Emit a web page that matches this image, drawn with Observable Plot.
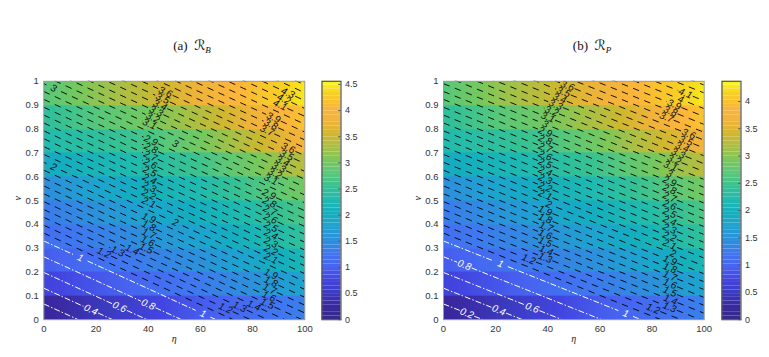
<!DOCTYPE html>
<html><head><meta charset="utf-8">
<script src="https://cdn.jsdelivr.net/npm/d3@7"></script>
<script src="https://cdn.jsdelivr.net/npm/@observablehq/plot@0.6"></script>
<style>
html,body{margin:0;padding:0;background:#fff}
#page{position:relative;width:769px;height:357px;overflow:hidden}
#page svg{position:absolute;background:transparent}
.ttl{position:absolute;top:37px;font:13px "Liberation Serif",serif;color:#111;white-space:pre;transform:translateX(-50%)}
.ttl sub{font-size:9px;font-style:italic;vertical-align:-3px;line-height:0}
.ttl i{font-family:"DejaVu Serif","DejaVu Sans";font-size:14px}
</style></head><body><div id="page"></div>
<script>
const parula=["#352a87","#3a28a0","#3b3bc0","#4245e0","#4763f0","#3f78f0","#2d8fdc","#1ea3d0","#14aebf","#1fbab0","#35c195","#5ac878","#78c85c","#aac044","#d0b72f","#f0b33a","#fcb53a","#f8cf25","#f9fb14"];
const etaCols=[0,20,40,60,80,100];
const nuBands=[0,0.1,0.2,0.3,0.4,0.5,0.6,0.7,0.8,0.9];
const fieldA=[
[0.2,0.45,0.7,0.95,1.15,1.35],
[0.7,0.9,1.1,1.3,1.55,1.8],
[0.95,1.15,1.35,1.55,1.85,2.2],
[1.15,1.35,1.55,1.8,2.15,2.5],
[1.3,1.55,1.8,2.05,2.35,2.7],
[1.5,1.8,2.05,2.3,2.65,3.0],
[1.95,2.15,2.35,2.6,3.0,3.4],
[2.3,2.45,2.65,3.0,3.45,3.9],
[2.45,2.75,3.0,3.35,3.8,4.2],
[2.75,3.15,3.45,3.8,4.15,4.45]];
const fieldB=[
[0.19,0.43,0.67,0.91,1.1,1.3],
[0.67,0.86,1.06,1.25,1.49,1.73],
[0.91,1.1,1.3,1.49,1.78,2.11],
[1.1,1.3,1.49,1.73,2.06,2.4],
[1.25,1.49,1.73,1.97,2.26,2.59],
[1.44,1.73,1.97,2.21,2.54,2.88],
[1.87,2.06,2.26,2.5,2.88,3.26],
[2.21,2.35,2.54,2.88,3.31,3.74],
[2.35,2.64,2.88,3.22,3.65,4.03],
[2.64,3.02,3.31,3.65,3.98,4.27]];
const levels=[0.2,0.4,0.6,0.8,1,1.1,1.2,1.3,1.4,1.5,1.6,1.7,1.8,1.9,2,2.1,2.2,2.3,2.4,2.5,2.6,2.7,2.8,2.9,3,3.1,3.2,3.3,3.4,3.5,3.6,3.7,3.8,3.9,4,4.1,4.2,4.3,4.4,4.5];
const nuAtEta0=[0.066,0.132,0.198,0.264,0.33,0.363,0.396,0.429,0.462,0.495,0.528,0.561,0.594,0.627,0.66,0.693,0.726,0.759,0.792,0.825,0.858,0.891,0.924,0.957,0.99,1.023,1.056,1.089,1.122,1.155,1.188,1.221,1.254,1.287,1.32,1.353,1.386,1.419,1.452,1.485];
const nuAtEta100A=[-0.434,-0.368,-0.302,-0.236,-0.17,-0.137,-0.104,-0.071,-0.038,-0.005,0.028,0.061,0.094,0.127,0.16,0.193,0.226,0.259,0.292,0.325,0.358,0.391,0.424,0.457,0.49,0.523,0.556,0.589,0.622,0.655,0.688,0.721,0.754,0.787,0.82,0.853,0.886,0.919,0.952,0.985];
const nuAtEta100B=[-0.369,-0.303,-0.237,-0.171,-0.105,-0.072,-0.039,-0.006,0.027,0.06,0.093,0.126,0.159,0.192,0.225,0.258,0.291,0.324,0.357,0.39,0.423,0.456,0.489,0.522,0.555,0.588,0.621,0.654,0.687,0.72,0.753,0.786,0.819,0.852,0.885,0.918,0.951,0.984,1.017,1.05];
const labelLevelA=[0.4,0.6,0.8,1,1,1.2,1.3,1.4,1.5,1.6,1.7,1.8,1.9,2,2,2.1,2.2,2.3,2.4,2.5,2.6,2.7,2.8,2.9,3,3,3.1,3.2,3.3,3.4,3.5,3.6,
1.2,1.3,1.4,1.5,1.6,1.7,1.8,1.9,2.1,2.2,2.3,2.4,2.5,2.6,2.7,2.8,2.9,3.1,3.2,3.3,3.4,3.5,3.6,3.7,3.8,3.9,4.1,4.2,4.3];
const labelEtaA=[18,29,40,14,61,23,28.3,33.8,39.2,39.8,40.2,40.2,40.2,3.8,50.4,40.2,40.2,40.4,40.5,40.6,40.7,40.8,41,41,3.8,50.4,40.5,41.8,43,44.5,45.5,46.6,
69.6,75,80.5,85.6,86.2,86.5,87,87,87,87,87,87,87,86.8,86.6,86.4,86.2,87,88.5,90,91.5,93,93.6,85.5,87,88,90.5,92,93.5];
const labelLevelB=[0.2,0.4,0.6,0.8,1,1,1.2,1.3,1.4,1.5,1.6,1.7,1.8,1.9,2,2.1,2.2,2.3,2.4,2.5,2.6,2.7,2.8,2.9,3,3.1,3.2,3.3,3.4,3.5,3.6,
1.2,1.3,1.4,1.5,1.6,1.7,1.8,1.9,2,2.1,2.2,2.3,2.4,2.5,2.6,2.7,2.8,2.9,3,3.1,3.2,3.3,3.4,3.5,3.6,3.7,3.8,3.9,4,4.1];
const labelEtaB=[9,21.2,34,8,21.9,69.9,32.7,39,39.4,39,39,39.4,39,39,40.4,39,39,39,39,39,39,39,39,39,39,40,41.5,43,44.5,46,47.5,
80.4,86.7,87,86.8,86.8,86.8,86.8,86.8,88,86.7,86.7,86.7,86.7,86.7,86.7,86.7,86.7,86.7,86.7,87,88.5,90,91.5,93,94,85.5,87,88.5,91,92.8];
const ticksX=[0,20,40,60,80,100];
const ticksY=[0,0.1,0.2,0.3,0.4,0.5,0.6,0.7,0.8,0.9,1];
const panelA={left:0,frameL:43.3,frameR:304.3,cbL:320.5,cbMax:4.56,cbTicks:[0,0.5,1,1.5,2,2.5,3,3.5,4,4.5],field:fieldA,ends:nuAtEta100A,lv:labelLevelA,le:labelEtaA,title:"(a)",sub:"B",titleX:192};
const panelB={left:385,frameL:443,frameR:703.7,cbL:720.5,cbMax:4.37,cbTicks:[0,0.5,1,1.5,2,2.5,3,3.5,4],field:fieldB,ends:nuAtEta100B,lv:labelLevelB,le:labelEtaB,title:"(b)",sub:"P",titleX:592};
const fTop=80.8,fBot=319.2,H=357;
const page=document.getElementById("page");
const font='"Liberation Sans",Arial,sans-serif';
const gap=2.8;
function draw(p){
  const W=p.frameR-p.left+40;
  const pts=[];
  p.field.forEach((row,i)=>row.forEach((v,j)=>{
    pts.push({eta:etaCols[j],nu:nuBands[i],value:v});
    pts.push({eta:etaCols[j],nu:nuBands[i]+0.0999,value:v});
  }));
  const segs=[];
  levels.forEach((L,i)=>{
    const a=nuAtEta0[i],b=p.ends[i],f=e=>a+(b-a)*e/100;
    const es=p.lv.map((l,k)=>l===L?p.le[k]:null).filter(e=>e!==null&&e>=0).sort((x,y)=>x-y);
    let s=0;
    for(const e of es){segs.push({L,e1:s,e2:e-gap,n1:f(s),n2:f(e-gap)});s=e+gap;}
    segs.push({L,e1:s,e2:100,n1:f(s),n2:f(100)});
  });
  const labels=p.lv.map((l,k)=>{
    const i=levels.indexOf(l),e=p.le[k];
    return {l,e,n:nuAtEta0[i]+(p.ends[i]-nuAtEta0[i])*e/100};
  }).filter(d=>d.e>=0);
  const angle=Math.atan2((nuAtEta0[0]-p.ends[0])*(fBot-fTop),p.frameR-p.frameL)*180/Math.PI;
  const link=(flt,c,dash,w)=>Plot.link(segs.filter(flt),{x1:"e1",y1:"n1",x2:"e2",y2:"n2",stroke:c,strokeDasharray:dash,strokeWidth:w,clip:true});
  const lab=(flt,c)=>Plot.text(labels.filter(flt),{x:"e",y:"n",text:d=>String(d.l),fill:c,rotate:angle,fontSize:10,fontStyle:"italic",fontFamily:font});
  const svg=Plot.plot({
    width:W,height:H,marginLeft:p.frameL-p.left,marginRight:W-(p.frameR-p.left),marginTop:fTop,marginBottom:H-fBot,
    style:{background:"transparent",fontFamily:font},
    x:{domain:[0,100]},y:{domain:[0,1]},
    color:{domain:[0,p.cbMax],interpolate:d3.piecewise(d3.interpolateRgb,parula)},
    marks:[
      Plot.raster(pts,{x:"eta",y:"nu",fill:"value",x1:0,x2:100,y1:0,y2:1,interpolate:"barycentric"}),
      link(d=>d.L>1,"#000","6.5,5.5",0.9),
      link(d=>d.L<=1,"#fff","6,2,1.5,2",1),
      lab(d=>d.l>1,"#111"),
      lab(d=>d.l<=1,"#fff"),
      Plot.frame({stroke:"#999",strokeWidth:1}),
      Plot.axisX({ticks:ticksX,tickSize:0,tickPadding:6,fontSize:9.5,color:"#333",label:null}),
      Plot.axisY({ticks:ticksY,tickSize:0,tickPadding:5,fontSize:9.5,color:"#333",label:null,tickFormat:d=>String(d)}),
      Plot.text(["η"],{frameAnchor:"bottom",dy:22,fontFamily:"Liberation Serif",fontStyle:"italic",fontSize:10,fill:"#222"}),
      Plot.text(["ν"],{frameAnchor:"left",dx:-26,rotate:-90,fontFamily:"Liberation Serif",fontStyle:"italic",fontSize:10,fill:"#222"})
    ]
  });
  svg.style.left=p.left+"px";svg.style.top="0";page.appendChild(svg);
  const bands=d3.range(64).map(i=>({v1:p.cbMax*i/64,v2:p.cbMax*(i+1)/64}));
  const cb=Plot.plot({
    width:48,height:H,marginLeft:0.5,marginRight:28.5,marginTop:fTop,marginBottom:H-fBot,
    style:{background:"transparent",fontFamily:font},
    x:{domain:[0,1],axis:null},y:{domain:[0,p.cbMax]},
    color:{domain:[0,p.cbMax],interpolate:d3.piecewise(d3.interpolateRgb,parula)},
    marks:[
      Plot.rect(bands,{x1:0,x2:1,y1:"v1",y2:"v2",fill:d=>(d.v1+d.v2)/2}),
      Plot.ruleY(p.cbTicks,{x1:0.88,x2:1,stroke:"#555",strokeWidth:1}),
      Plot.frame({stroke:"#555",strokeWidth:1.2}),
      Plot.axisY({anchor:"right",ticks:p.cbTicks,tickSize:0,tickPadding:4,fontSize:9,color:"#333",label:null,tickFormat:d=>String(d)})
    ]
  });
  cb.style.left=p.cbL+"px";cb.style.top="0";page.appendChild(cb);
  const t=document.createElement("div");t.className="ttl";t.style.left=p.titleX+"px";
  t.innerHTML=p.title+"  <i>ℛ</i><sub>"+p.sub+"</sub>";page.appendChild(t);
}
draw(panelA);draw(panelB);
</script></body></html>
